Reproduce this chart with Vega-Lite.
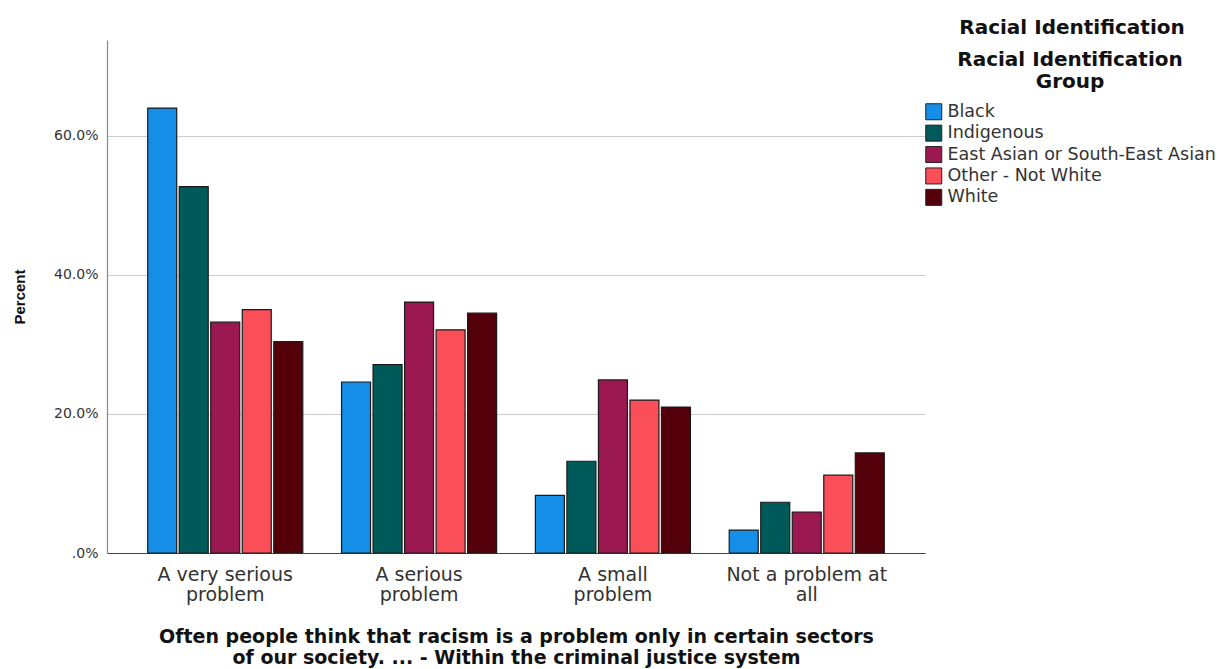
{
  "$schema": "https://vega.github.io/schema/vega-lite/v6.json",
  "width": 818,
  "height": 513,
  "autosize": {"type": "none"},
  "padding": {"left": 107, "top": 40, "right": 305, "bottom": 116},
  "background": "white",
  "title": {
    "text": "Racial Identification",
    "anchor": "start",
    "align": "center",
    "frame": "group",
    "dx": 965,
    "offset": 2,
    "fontSize": 20,
    "fontWeight": "bold",
    "font": "DejaVu Sans",
    "color": "#111"
  },
  "data": {
    "values": [
      {"response": "A very serious problem", "group": "Black", "percent": 64.0},
      {"response": "A very serious problem", "group": "Indigenous", "percent": 52.7},
      {"response": "A very serious problem", "group": "East Asian or South-East Asian", "percent": 33.2},
      {"response": "A very serious problem", "group": "Other - Not White", "percent": 35.0},
      {"response": "A very serious problem", "group": "White", "percent": 30.4},
      {"response": "A serious problem", "group": "Black", "percent": 24.6},
      {"response": "A serious problem", "group": "Indigenous", "percent": 27.1},
      {"response": "A serious problem", "group": "East Asian or South-East Asian", "percent": 36.1},
      {"response": "A serious problem", "group": "Other - Not White", "percent": 32.1},
      {"response": "A serious problem", "group": "White", "percent": 34.5},
      {"response": "A small problem", "group": "Black", "percent": 8.3},
      {"response": "A small problem", "group": "Indigenous", "percent": 13.2},
      {"response": "A small problem", "group": "East Asian or South-East Asian", "percent": 24.9},
      {"response": "A small problem", "group": "Other - Not White", "percent": 22.0},
      {"response": "A small problem", "group": "White", "percent": 21.0},
      {"response": "Not a problem at all", "group": "Black", "percent": 3.3},
      {"response": "Not a problem at all", "group": "Indigenous", "percent": 7.3},
      {"response": "Not a problem at all", "group": "East Asian or South-East Asian", "percent": 5.9},
      {"response": "Not a problem at all", "group": "Other - Not White", "percent": 11.2},
      {"response": "Not a problem at all", "group": "White", "percent": 14.4}
    ]
  },
  "mark": {"type": "bar", "stroke": "#1a1a1a", "strokeWidth": 1.2},
  "encoding": {
    "x": {
      "field": "response",
      "type": "nominal",
      "sort": ["A very serious problem", "A serious problem", "A small problem", "Not a problem at all"],
      "scale": {"paddingInner": 0.2, "paddingOuter": 0.21},
      "axis": {
        "title": ["Often people think that racism is a problem only in certain sectors", "of our society. ... - Within the criminal justice system"],
        "titleFont": "DejaVu Sans",
        "titleFontSize": 19,
        "titleFontWeight": "bold",
        "titleColor": "#111",
        "titleLineHeight": 21,
        "titlePadding": 23,
        "labelAngle": 0,
        "labelFont": "DejaVu Sans",
        "labelFontSize": 19,
        "labelColor": "#333",
        "labelLineHeight": 20,
        "labelPadding": 12,
        "labelExpr": "datum.value == 'A very serious problem' ? ['A very serious', 'problem'] : datum.value == 'A serious problem' ? ['A serious', 'problem'] : datum.value == 'A small problem' ? ['A small', 'problem'] : ['Not a problem at', 'all']",
        "ticks": false,
        "domainColor": "#444",
        "domainWidth": 1.2
      }
    },
    "xOffset": {
      "field": "group",
      "sort": ["Black", "Indigenous", "East Asian or South-East Asian", "Other - Not White", "White"],
      "scale": {"paddingInner": 0.08}
    },
    "y": {
      "field": "percent",
      "type": "quantitative",
      "scale": {"domain": [0, 73.8], "nice": false},
      "axis": {
        "title": "Percent",
        "titleFont": "Liberation Sans",
        "titleFontSize": 15,
        "titleFontWeight": "bold",
        "titleColor": "#111",
        "titlePadding": 26,
        "values": [0, 20, 40, 60],
        "labelExpr": "datum.value == 0 ? '.0%' : format(datum.value, '.1f') + '%'",
        "labelFont": "DejaVu Sans",
        "labelFontSize": 14,
        "labelColor": "#333",
        "labelPadding": 9,
        "ticks": false,
        "grid": true,
        "gridColor": "#cccccc",
        "gridWidth": 1.2,
        "domainColor": "#888",
        "domainWidth": 1.2
      }
    },
    "color": {
      "field": "group",
      "type": "nominal",
      "scale": {
        "domain": ["Black", "Indigenous", "East Asian or South-East Asian", "Other - Not White", "White"],
        "range": ["#148ee6", "#005a5a", "#9c1850", "#fa4e58", "#54000a"]
      },
      "legend": {
        "title": ["Racial Identification", "Group"],
        "orient": "none",
        "legendX": 818,
        "legendY": 10,
        "titleFont": "DejaVu Sans",
        "titleFontSize": 20,
        "titleFontWeight": "bold",
        "titleColor": "#111",
        "titleLineHeight": 22,
        "titleAnchor": "middle",
        "titleAlign": "center",
        "titlePadding": 11,
        "titleLimit": 400,
        "labelFont": "DejaVu Sans",
        "labelFontSize": 17.5,
        "labelColor": "#333",
        "labelOffset": 5,
        "labelLimit": 400,
        "symbolType": "square",
        "symbolSize": 256,
        "symbolStrokeColor": "#222",
        "symbolStrokeWidth": 1,
        "symbolOpacity": 1,
        "rowPadding": 0.4
      }
    }
  },
  "config": {"view": {"stroke": null}}
}
